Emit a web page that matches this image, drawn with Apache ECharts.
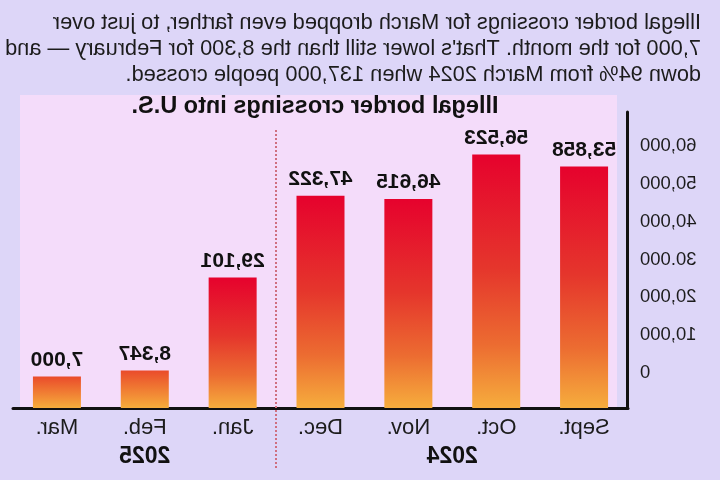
<!DOCTYPE html>
<html>
<head>
<meta charset="utf-8">
<script src="https://cdn.jsdelivr.net/npm/echarts@6/dist/echarts.min.js"></script>
<style>
  html,body{margin:0;padding:0;background:#ddd6f8;}
  /* the reference is a mirrored picture, so the whole chart is flipped */
  #main{width:720px;height:480px;transform:scaleX(-1);}
</style>
</head>
<body>
<div id="main"></div>
<script>
var months = ['Sept.', 'Oct.', 'Nov.', 'Dec.', 'Jan.', 'Feb.', 'Mar.'];
var crossings = [53858, 56523, 46615, 47322, 29101, 8347, 7000];
var tickLabels = ['0', '10,000', '20,000', '30.000', '40,000', '50,000', '60,000'];
var years = {2: '2024', 5.5: '2025'};
var headline = 'Illegal border crossings for March dropped even farther, to just over\n' +
  '7,000 for the month. That\'s lower still than the 8,300 for February — and\n' +
  'down 94% from March 2024 when 137,000 people crossed.';

var font = '"Liberation Sans", Arial, sans-serif';

function barGrad(top) {
  return new echarts.graphic.LinearGradient(0, 0, 0, 1, [
    {offset: 0, color: top},
    {offset: 0.45, color: '#e5362c'},
    {offset: 0.75, color: '#ec6c31'},
    {offset: 1, color: '#f6ad3d'}
  ]);
}
function shortGrad() {
  return new echarts.graphic.LinearGradient(0, 0, 0, 1, [
    {offset: 0, color: '#ea4b2b'},
    {offset: 1, color: '#f6ad3b'}
  ]);
}

var myChart = echarts.init(document.getElementById('main'));
var option = {
  backgroundColor: '#ddd6f8',
  textStyle: {fontFamily: font},
  title: [
    {
      text: headline, left: 14, top: 5,
      textStyle: {fontSize: 21.8, fontWeight: 'normal', color: '#1c1c1c', lineHeight: 26, fontFamily: font}
    },
    {
      text: 'Illegal border crossings into U.S.', left: 400, top: 90, textAlign: 'center',
      textStyle: {fontSize: 23.5, fontWeight: 'bold', color: '#111', fontFamily: font}
    }
  ],
  graphic: [
    {type: 'rect', left: 103, top: 95, z: -10, shape: {width: 597, height: 313}, style: {fill: '#f4dcfa'}}
  ],
  grid: [
    {left: 92, right: 13, top: 112, bottom: 72},
    {left: 92, right: 13, top: 146, bottom: 107},
    {left: 92, right: 13, top: 130, bottom: 12}
  ],
  xAxis: [
    {
      type: 'category', gridIndex: 0, data: months,
      axisLine: {lineStyle: {color: '#111', width: 3}},
      axisTick: {show: false},
      axisLabel: {color: '#1c1c1c', fontSize: 22, margin: 9, fontFamily: font}
    },
    {type: 'category', gridIndex: 1, data: months, show: false},
    {
      type: 'value', gridIndex: 2, min: 0, max: 7, interval: 0.5,
      axisLine: {show: false}, axisTick: {show: false}, splitLine: {show: false},
      axisLabel: {
        inside: true, margin: 0, color: '#111', fontSize: 23, fontWeight: 'bold', fontFamily: font,
        formatter: function (v) { return years[v] || ''; }
      }
    }
  ],
  yAxis: [
    {
      type: 'value', gridIndex: 0, min: 0, max: 66000,
      axisLine: {show: true, lineStyle: {color: '#111', width: 3}},
      axisTick: {show: false}, axisLabel: {show: false}, splitLine: {show: false}
    },
    {
      type: 'value', gridIndex: 1, min: 0, max: 60000, interval: 10000,
      axisLine: {show: false}, axisTick: {show: false}, splitLine: {show: false},
      axisLabel: {
        color: '#1c1c1c', fontSize: 18.5, margin: 12, fontFamily: font,
        formatter: function (v) { return tickLabels[v / 10000]; }
      }
    },
    {type: 'value', gridIndex: 2, min: 0, max: 1, show: false}
  ],
  series: [
    {
      type: 'bar', xAxisIndex: 0, yAxisIndex: 0, barWidth: 48,
      data: crossings.map(function (v) {
        return {value: v, itemStyle: {color: v < 10000 ? shortGrad() : barGrad('#e6022d')}};
      }),
      label: {
        show: true, position: 'top', distance: 6, color: '#111', fontSize: 21, fontWeight: 'bold',
        fontFamily: font,
        formatter: function (p) { return p.value.toLocaleString('en-US'); }
      }
    },
    {
      type: 'line', xAxisIndex: 2, yAxisIndex: 2, data: [],
      markLine: {
        silent: true, symbol: 'none', label: {show: false},
        lineStyle: {type: [2, 2], color: '#cf6f80', width: 2},
        data: [{xAxis: 4}]
      }
    }
  ]
};
option && myChart.setOption(option);
</script>
</body>
</html>
